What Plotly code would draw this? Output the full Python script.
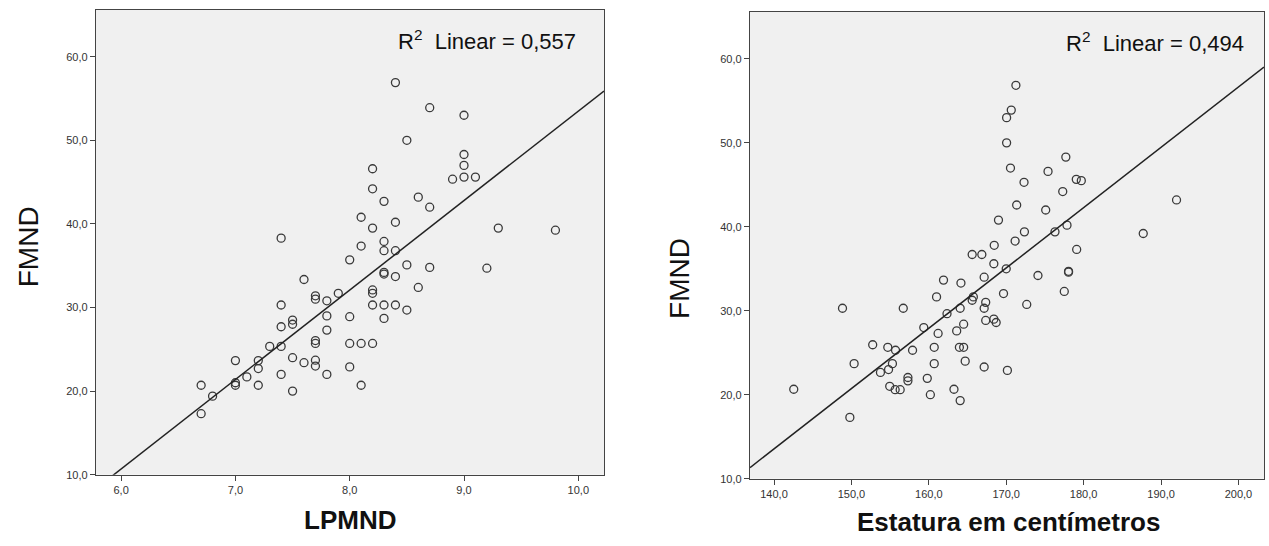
import numpy as np
import plotly.graph_objects as go

# ---------------- data ----------------
lpmnd = [8.4, 8.7, 9.0, 8.5, 9.0, 9.0, 8.9, 9.0, 9.1, 8.2, 8.2, 8.3, 8.6, 8.7, 8.1, 8.4,
         8.2, 9.3, 9.8, 7.4, 8.3, 8.1, 8.3, 8.4, 8.0, 8.5, 8.7, 9.2, 8.3, 8.3, 8.4, 7.6,
         8.6, 8.2, 8.2, 7.9, 7.7, 7.7, 7.8, 7.4, 8.2, 8.3, 8.4, 8.5, 7.8, 8.0, 8.3, 7.5,
         7.5, 7.4, 7.8, 7.7, 7.7, 8.0, 8.1, 8.2, 7.3, 7.4, 7.5, 7.0, 7.2, 7.7, 7.6, 7.7,
         8.0, 7.2, 7.4, 7.8, 7.1, 7.0, 7.0, 6.7, 7.2, 8.1, 7.5, 6.8, 6.7]
fmnd_left = [56.9, 53.9, 53.0, 50.0, 48.3, 47.0, 45.35, 45.6, 45.6, 46.6, 44.2, 42.7, 43.2, 42.0,
             40.8, 40.2, 39.5, 39.5, 39.25, 38.3, 37.9, 37.35, 36.8, 36.8, 35.7, 35.1, 34.8, 34.7,
             34.2, 34.0, 33.7, 33.35, 32.4, 32.1, 31.7, 31.7, 31.4, 31.0, 30.8, 30.3, 30.3, 30.3,
             30.3, 29.7, 29.0, 28.9, 28.7, 28.5, 28.0, 27.7, 27.3, 26.05, 25.7, 25.7, 25.7, 25.7,
             25.35, 25.35, 24.0, 23.65, 23.65, 23.7, 23.4, 23.0, 22.9, 22.7, 22.0, 22.0, 21.7,
             21.0, 20.7, 20.7, 20.7, 20.7, 20.0, 19.4, 17.3]

estatura = [171.25, 170.65, 170.05, 170.05, 177.7, 170.55, 175.4, 179.05, 179.7, 172.3, 177.3,
            171.35, 175.1, 169.0, 177.85, 192.0, 176.3, 172.35, 187.7, 171.15, 168.45, 179.1,
            165.6, 166.85, 168.4, 170.0, 178.05, 178.05, 174.1, 167.15, 161.9, 164.15, 177.5,
            169.65, 161.0, 165.75, 165.6, 167.35, 172.65, 148.85, 156.7, 164.05, 167.15, 162.35,
            168.4, 167.35, 168.7, 164.5, 159.35, 161.2, 163.6, 152.75, 154.7, 155.7, 157.9, 160.7,
            163.95, 164.5, 164.7, 150.35, 155.3, 160.7, 167.15, 170.15, 154.8, 153.75, 157.3,
            157.3, 159.8, 154.95, 142.55, 155.65, 156.3, 163.25, 160.2, 164.05, 149.8]
fmnd_right = [56.85, 53.9, 53.0, 50.0, 48.3, 47.0, 46.6, 45.65, 45.5, 45.3, 44.2, 42.6, 42.0, 40.8,
              40.2, 43.2, 39.4, 39.4, 39.2, 38.3, 37.8, 37.3, 36.7, 36.7, 35.6, 35.0, 34.7, 34.6,
              34.2, 34.0, 33.65, 33.3, 32.3, 32.05, 31.65, 31.65, 31.25, 31.0, 30.75, 30.3, 30.3,
              30.3, 30.3, 29.65, 29.0, 28.85, 28.6, 28.4, 28.0, 27.3, 27.6, 25.95, 25.65, 25.3,
              25.3, 25.65, 25.65, 25.65, 24.0, 23.7, 23.7, 23.7, 23.3, 22.9, 23.0, 22.65, 22.05,
              21.65, 21.95, 21.0, 20.65, 20.6, 20.6, 20.65, 20.0, 19.3, 17.3]

r2_labels = ["0,557", "0,494"]
x_titles = ["LPMND", "Estatura em centímetros"]
y_title = "FMND"
y_ticks = [10, 20, 30, 40, 50, 60]
x_ticks_left = [6, 7, 8, 9, 10]
x_ticks_right = [140, 150, 160, 170, 180, 190, 200]

# ---------------- figure ----------------
W, H = 1269, 546
FONT = "Liberation Sans, Arial, sans-serif"
xr_left = [5.78, 10.225]
xr_right = [136.9, 203.3]
yr = [10, 65.6]

fig = go.Figure()

def add_panel(x, y, xa, ya, xr):
    fig.add_trace(go.Scatter(
        x=x, y=y, mode="markers", xaxis=xa, yaxis=ya,
        marker=dict(symbol="circle-open", size=8, color="#3a3a3a", line=dict(width=1.3)),
        showlegend=False, hoverinfo="x+y"))
    b, a = np.polyfit(np.array(x), np.array(y), 1)
    xl = np.array(xr)
    fig.add_trace(go.Scatter(
        x=xl, y=a + b * xl, mode="lines", xaxis=xa, yaxis=ya,
        line=dict(color="#222222", width=1.5), showlegend=False, hoverinfo="skip"))

add_panel(lpmnd, fmnd_left, "x", "y", xr_left)
add_panel(estatura, fmnd_right, "x2", "y2", xr_right)

axis_common = dict(showgrid=False, zeroline=False, showline=True, linecolor="#444444",
                   linewidth=1.3, mirror=True, ticks="outside", ticklen=5, tickwidth=1.3,
                   tickcolor="#444444", tickformat=".1f",
                   tickfont=dict(family=FONT, size=11, color="#333333"))

fig.update_layout(
    width=W, height=H, margin=dict(l=0, r=0, t=0, b=0),
    paper_bgcolor="white", plot_bgcolor="#F0F0F0",
    separators=",.",
    font=dict(family=FONT),
    xaxis=dict(domain=[96 / W, 604 / W], range=xr_left, tickvals=x_ticks_left, anchor="y", **axis_common),
    yaxis=dict(domain=[1 - 480 / H, 1 - 10 / H], range=yr, tickvals=y_ticks, anchor="x", **axis_common),
    xaxis2=dict(domain=[750 / W, 1264 / W], range=xr_right, tickvals=x_ticks_right, anchor="y2", **axis_common),
    yaxis2=dict(domain=[1 - 484 / H, 1 - 12 / H], range=yr, tickvals=y_ticks, anchor="x2", **axis_common),
)

ann = []
# R^2 labels
ann.append(dict(x=578 / W, y=1 - 40 / H, xref="paper", yref="paper", xanchor="right", yanchor="middle",
                text="R<sup>2</sup>  Linear = " + r2_labels[0], showarrow=False,
                font=dict(family=FONT, size=22, color="#111111")))
ann.append(dict(x=1246 / W, y=1 - 42 / H, xref="paper", yref="paper", xanchor="right", yanchor="middle",
                text="R<sup>2</sup>  Linear = " + r2_labels[1], showarrow=False,
                font=dict(family=FONT, size=22, color="#111111")))
# axis titles
ann.append(dict(x=350 / W, y=1 - 526 / H, xref="paper", yref="paper", xanchor="center", yanchor="middle",
                text="<b>" + x_titles[0] + "</b>", showarrow=False,
                font=dict(family=FONT, size=26, color="#111111")))
ann.append(dict(x=1008 / W, y=1 - 528 / H, xref="paper", yref="paper", xanchor="center", yanchor="middle",
                text="<b>" + x_titles[1] + "</b>", showarrow=False,
                font=dict(family=FONT, size=26, color="#111111")))
ann.append(dict(x=28 / W, y=1 - 250 / H, xref="paper", yref="paper", xanchor="center", yanchor="middle",
                text=y_title, textangle=-90, showarrow=False,
                font=dict(family=FONT, size=28, color="#111111")))
ann.append(dict(x=680 / W, y=1 - 282 / H, xref="paper", yref="paper", xanchor="center", yanchor="middle",
                text=y_title, textangle=-90, showarrow=False,
                font=dict(family=FONT, size=28, color="#111111")))
fig.update_layout(annotations=ann)

fig.write_html("out.html")
